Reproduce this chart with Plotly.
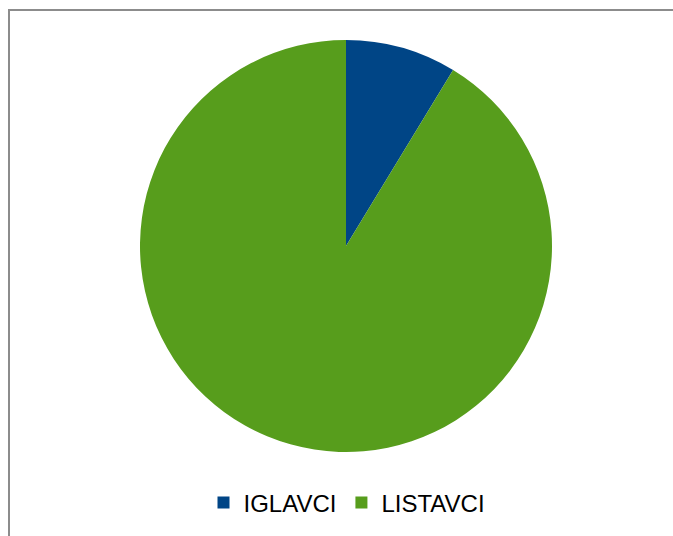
import plotly.graph_objects as go

labels = ["IGLAVCI", "LISTAVCI"]
values = [8.7, 91.3]
colors = ["#004586", "#579d1c"]

W, H = 673, 536

fig = go.Figure(go.Pie(
    labels=labels,
    values=values,
    marker=dict(colors=colors, line=dict(width=0)),
    textinfo="none",
    hoverinfo="label+percent",
    sort=False,
    direction="clockwise",
    rotation=0,
    domain=dict(x=[140 / W, 552 / W], y=[1 - 452 / H, 1 - 40 / H]),
))

fig.update_layout(
    width=W, height=H,
    margin=dict(l=0, r=0, t=0, b=0),
    paper_bgcolor="white",
    plot_bgcolor="white",
    font=dict(family="Liberation Sans, Arial, sans-serif", color="#000000"),
    legend=dict(
        orientation="h",
        x=347 / W, xanchor="center",
        y=1 - 503 / H, yanchor="middle",
        font=dict(size=24, family="Liberation Sans, Arial, sans-serif"),
        itemsizing="constant",
        bgcolor="rgba(0,0,0,0)",
    ),
    shapes=[dict(
        type="rect", xref="paper", yref="paper",
        x0=9 / W, x1=1.05, y0=-0.05, y1=1 - 10 / H,
        line=dict(color="#8c8c8c", width=2),
        fillcolor="rgba(0,0,0,0)",
        layer="below",
    )],
)

fig.write_html(
    "out.html",
    config={"displayModeBar": False},
    post_script="document.body.style.margin='0';document.body.style.overflow='hidden';",
)
